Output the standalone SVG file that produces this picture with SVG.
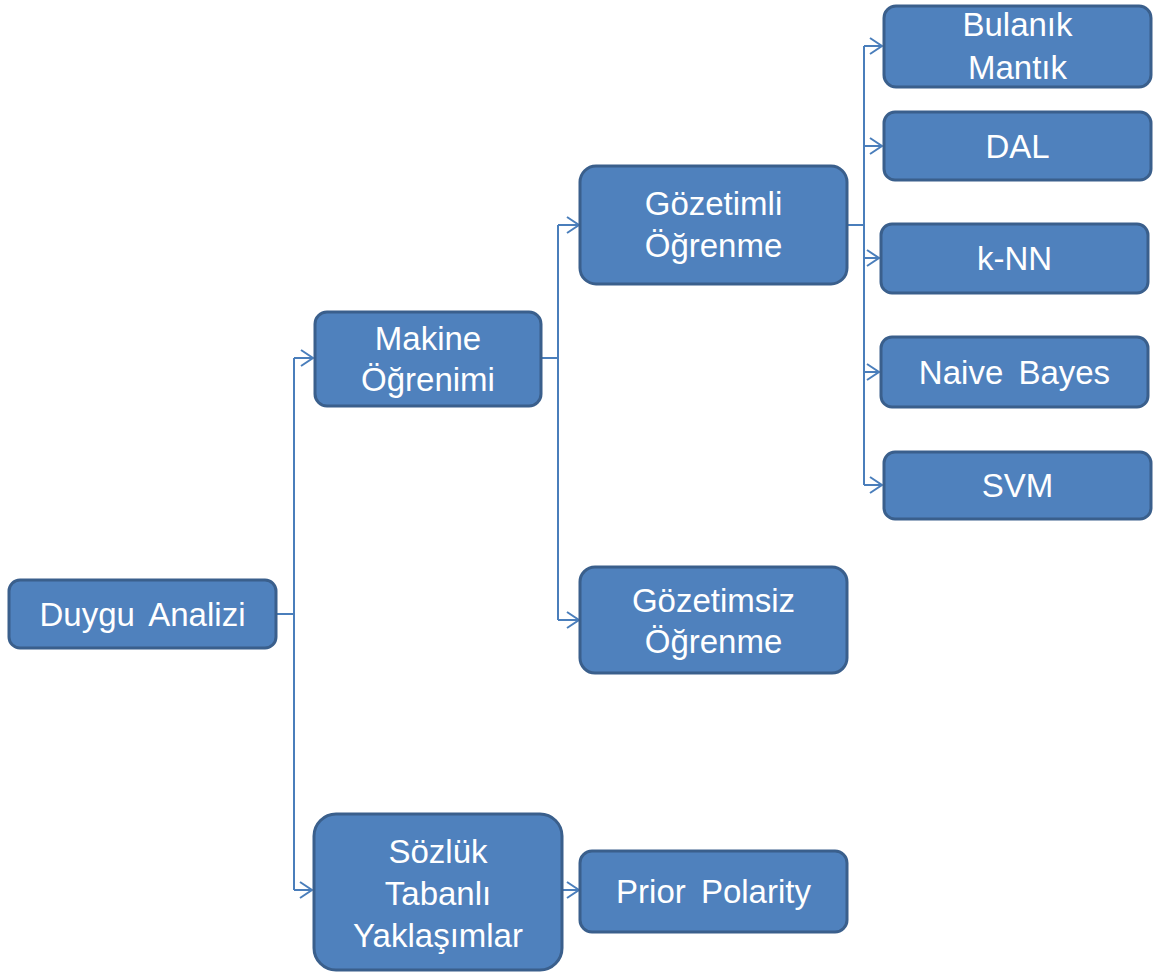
<svg xmlns="http://www.w3.org/2000/svg" width="1158" height="973" viewBox="0 0 1158 973">
<style>
.box{fill:#4f81bd;stroke:#3a5f8c;stroke-width:3}
.t{fill:#fff;font-family:"Liberation Sans",Arial,sans-serif;font-size:33px;text-anchor:middle;word-spacing:6px}
.c{fill:none;stroke:#4a7ebb;stroke-width:2}
</style>
<defs>
<marker id="arr" markerWidth="16" markerHeight="18" refX="14" refY="9" orient="auto" markerUnits="userSpaceOnUse">
<path d="M2,1 L14,9 L2,17" fill="none" stroke="#4a7ebb" stroke-width="2"/>
</marker>
</defs>
<rect width="1158" height="973" fill="#fff"/>
<g id="connectors">
<path class="c" d="M277,614 H294"/>
<path class="c" d="M294,358 V890"/>
<path class="c" d="M294,358 H313" marker-end="url(#arr)"/>
<path class="c" d="M294,890 H312" marker-end="url(#arr)"/>
<path class="c" d="M542,358 H558"/>
<path class="c" d="M558,225 V620"/>
<path class="c" d="M558,225 H579" marker-end="url(#arr)"/>
<path class="c" d="M558,620 H579" marker-end="url(#arr)"/>
<path class="c" d="M848,225 H864"/>
<path class="c" d="M864,46 V485"/>
<path class="c" d="M864,46 H882" marker-end="url(#arr)"/>
<path class="c" d="M864,146 H882" marker-end="url(#arr)"/>
<path class="c" d="M864,258 H879" marker-end="url(#arr)"/>
<path class="c" d="M864,372 H879" marker-end="url(#arr)"/>
<path class="c" d="M864,485 H882" marker-end="url(#arr)"/>
<path class="c" d="M563,890 H579" marker-end="url(#arr)"/>
</g>
<g id="duygu"><rect class="box" x="9" y="580" width="267" height="68" rx="11"/><text class="t" x="142.5" y="626">Duygu Analizi</text></g>
<g id="makine"><rect class="box" x="315" y="312" width="226" height="94" rx="12"/><text class="t" x="428" y="350">Makine</text><text class="t" x="428" y="391">Öğrenimi</text></g>
<g id="sozluk"><rect class="box" x="314" y="814" width="248" height="156" rx="22"/><text class="t" x="438" y="863">Sözlük</text><text class="t" x="438" y="905">Tabanlı</text><text class="t" x="438" y="947">Yaklaşımlar</text></g>
<g id="gozetimli"><rect class="box" x="580" y="166" width="267" height="118" rx="16"/><text class="t" x="713.5" y="215">Gözetimli</text><text class="t" x="713.5" y="257">Öğrenme</text></g>
<g id="gozetimsiz"><rect class="box" x="580" y="567" width="267" height="106" rx="15"/><text class="t" x="713.5" y="612">Gözetimsiz</text><text class="t" x="713.5" y="653">Öğrenme</text></g>
<g id="prior"><rect class="box" x="580" y="851" width="267" height="81" rx="12"/><text class="t" x="713.5" y="903">Prior Polarity</text></g>
<g id="bulanik"><rect class="box" x="884" y="6" width="267" height="81" rx="12"/><text class="t" x="1017.5" y="36">Bulanık</text><text class="t" x="1017.5" y="79">Mantık</text></g>
<g id="dal"><rect class="box" x="884" y="112" width="267" height="68" rx="11"/><text class="t" x="1017.5" y="158">DAL</text></g>
<g id="knn"><rect class="box" x="881" y="224" width="267" height="69" rx="11"/><text class="t" x="1014.5" y="270">k-NN</text></g>
<g id="naive"><rect class="box" x="881" y="337" width="267" height="70" rx="11"/><text class="t" x="1014.5" y="384">Naive Bayes</text></g>
<g id="svm"><rect class="box" x="884" y="452" width="267" height="67" rx="11"/><text class="t" x="1017.5" y="497">SVM</text></g>
</svg>
